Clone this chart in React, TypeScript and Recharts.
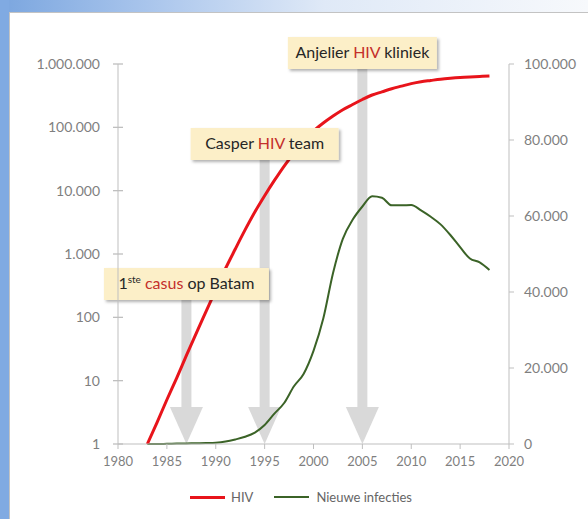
import React from 'react';
import {
  ComposedChart,
  Line,
  XAxis,
  YAxis,
  Legend,
  ReferenceLine
} from 'recharts';

// years 1983 - 2018
const years = [
  1983, 1984, 1985, 1986, 1987, 1988, 1989, 1990, 1991, 1992, 1993, 1994,
  1995, 1996, 1997, 1998, 1999, 2000, 2001, 2002, 2003, 2004, 2005, 2006,
  2007, 2008, 2009, 2010, 2011, 2012, 2013, 2014, 2015, 2016, 2017, 2018
];

// cumulative HIV (left axis, log)
const hiv = [
  1, 2.2, 5, 11, 25, 56, 123, 270, 590, 1200, 2400, 4600,
  8300, 14500, 24500, 39000, 59000, 87000, 117000, 151000, 190000, 229000, 275000, 324000,
  363000, 407000, 447000, 490000, 525000, 550000, 575000, 595000, 612000, 625000, 636000, 646000
];

// new infections (right axis)
const nieuweInfecties = [
  0, 0, 50, 100, 150, 200, 250, 350, 650, 1200, 1900, 3000,
  5000, 8000, 10800, 15200, 18500, 24500, 33000, 45000, 54000, 59000, 62500, 65200,
  64800, 62800, 62800, 62900, 61500, 59800, 57800, 55000, 51800, 48800, 47800, 45800
];

const xTicks = [1980, 1985, 1990, 1995, 2000, 2005, 2010, 2015, 2020];
const logTicks = [1, 10, 100, 1000, 10000, 100000, 1000000];
const rightTicks = [0, 20000, 40000, 60000, 80000, 100000];

// annotations
const eventYears = [1987, 1995, 2005];
const eventLabels = [
  ['1', 'ste', ' ', 'casus', ' op Batam'],
  ['Casper ', '', '', 'HIV', ' team'],
  ['Anjelier ', '', '', 'HIV', ' kliniek']
];
const boxTop = [268, 128, 37];
const boxWidth = [165, 148, 149];

const rows = years.map((y, i) => ({ year: y, hiv: hiv[i], nieuw: nieuweInfecties[i] }));

const fmt = (v: number) => String(v).replace(/\B(?=(\d{3})+(?!\d))/g, '.');

const RED = '#e8141b';
const GREEN = '#3b6327';
const AXIS = '#bfbfbf';
const LABEL = '#7f7f7f';

const LeftTick = (props: any) => {
  const { x, y, payload } = props;
  const ax = x + 18;
  return (
    <g>
      <line x1={ax - 5} x2={ax + 5} y1={y} y2={y} stroke={AXIS} strokeWidth={1.3} />
      <text x={x} y={y} dy="0.355em" textAnchor="end" fill={LABEL} fontSize={14} fontFamily="Lato">
        {fmt(payload.value)}
      </text>
    </g>
  );
};

const arrowShape = (props: any) => {
  const i = props.idx;
  const x = props.x1;
  const tip = Math.max(props.y1, props.y2);
  const top = boxTop[i] + 32;
  const headH = 37;
  const shaft = 10;
  const headW = 33;
  return (
    <g>
      <rect x={x - shaft / 2} y={top} width={shaft} height={tip - headH - top} fill="#d9d9d9" />
      <polygon
        points={`${x - headW / 2},${tip - headH} ${x + headW / 2},${tip - headH} ${x},${tip}`}
        fill="#d9d9d9"
      />
    </g>
  );
};

const boxShape = (props: any) => {
  const i = props.idx;
  const x = props.x1;
  const w = boxWidth[i];
  const t = boxTop[i];
  const parts = eventLabels[i];
  return (
    <g>
      <rect x={x - w / 2} y={t} width={w} height={32} fill="#fcefc8" filter="url(#boxShadow)" />
      <text x={x} y={t + 21} textAnchor="middle" fontSize={16} fontFamily="Lato" fill="#262626">
        <tspan>{parts[0]}</tspan>
        {parts[1] ? (
          <tspan fontSize={10} dy={-6}>{parts[1]}</tspan>
        ) : null}
        {parts[1] ? <tspan dy={6}>{parts[2]}</tspan> : null}
        <tspan fill="#c4302b">{parts[3]}</tspan>
        <tspan>{parts[4]}</tspan>
      </text>
    </g>
  );
};

const LegendContent = () => (
  <div style={{ display: 'flex', alignItems: 'center', fontFamily: 'Lato', fontSize: 13, color: '#666' }}>
    <span style={{ display: 'inline-block', width: 35, height: 3, background: RED, marginRight: 6 }} />
    <span style={{ marginRight: 21 }}>HIV</span>
    <span style={{ display: 'inline-block', width: 35, height: 2, background: GREEN, marginRight: 7 }} />
    <span>Nieuwe infecties</span>
  </div>
);

export default function App() {
  return (
    <div
      style={{
        position: 'absolute',
        left: 0,
        top: 0,
        width: 588,
        height: 519,
        overflow: 'hidden',
        background: 'linear-gradient(90deg, #7ba6df 0%, #a9c5ec 25%, #dfe9f7 55%, #f7f9fc 100%)'
      }}
    >
      <div style={{ position: 'absolute', left: 0, top: 0, width: 9, height: 519, background: '#80aae2' }} />
      <div
        style={{
          position: 'absolute',
          left: 9,
          top: 12,
          width: 590,
          height: 520,
          background: '#fff',
          borderLeft: '1px solid #c3c3c3',
          borderTop: '1px solid #c3c3c3'
        }}
      />
      <div style={{ position: 'absolute', left: 0, top: 0 }}>
        <svg width={0} height={0} style={{ position: 'absolute' }}>
          <defs>
            <filter id="boxShadow" x="-10%" y="-20%" width="130%" height="160%">
              <feDropShadow dx={2} dy={2} stdDeviation={1.5} floodColor="#000" floodOpacity={0.3} />
            </filter>
          </defs>
        </svg>
        <ComposedChart
          width={588}
          height={519}
          data={rows}
          margin={{ top: 64, right: 0, bottom: 45, left: 0 }}
        >
          <XAxis
            dataKey="year"
            type="number"
            domain={[1980, 2020]}
            ticks={xTicks}
            height={30}
            stroke={AXIS}
            tickSize={5}
            tickMargin={8}
            tick={{ fill: LABEL, fontSize: 13, fontFamily: 'Lato' }}
            interval={0}
          />
          <YAxis
            yAxisId="hiv"
            orientation="left"
            scale="log"
            domain={[1, 1000000]}
            ticks={logTicks}
            width={118}
            stroke={AXIS}
            tickLine={false}
            tickSize={0}
            tickMargin={18}
            tick={<LeftTick />}
            interval={0}
            allowDataOverflow
          />
          <YAxis
            yAxisId="nieuw"
            orientation="right"
            domain={[0, 100000]}
            ticks={rightTicks}
            width={79}
            stroke={AXIS}
            tickSize={5}
            tickMargin={10}
            tickFormatter={fmt}
            tick={{ fill: LABEL, fontSize: 14, fontFamily: 'Lato' }}
            interval={0}
          />
          {eventYears.map((yr, i) => (
            <ReferenceLine
              key={'a' + yr}
              x={yr}
              yAxisId="hiv"
              shape={(p: any) => arrowShape({ ...p, idx: i })}
            />
          ))}
          <Line
            yAxisId="nieuw"
            type="monotone"
            dataKey="nieuw"
            name="Nieuwe infecties"
            stroke={GREEN}
            strokeWidth={2}
            dot={false}
            isAnimationActive={false}
          />
          <Line
            yAxisId="hiv"
            type="monotone"
            dataKey="hiv"
            name="HIV"
            stroke={RED}
            strokeWidth={3}
            dot={false}
            isAnimationActive={false}
          />
          {eventYears.map((yr, i) => (
            <ReferenceLine
              key={'b' + yr}
              x={yr}
              yAxisId="hiv"
              shape={(p: any) => boxShape({ ...p, idx: i })}
            />
          ))}
          <Legend
            layout="horizontal"
            verticalAlign="middle"
            align="center"
            content={<LegendContent />}
            wrapperStyle={{ top: 489, left: 190, width: 260 }}
          />
        </ComposedChart>
      </div>
    </div>
  );
}
